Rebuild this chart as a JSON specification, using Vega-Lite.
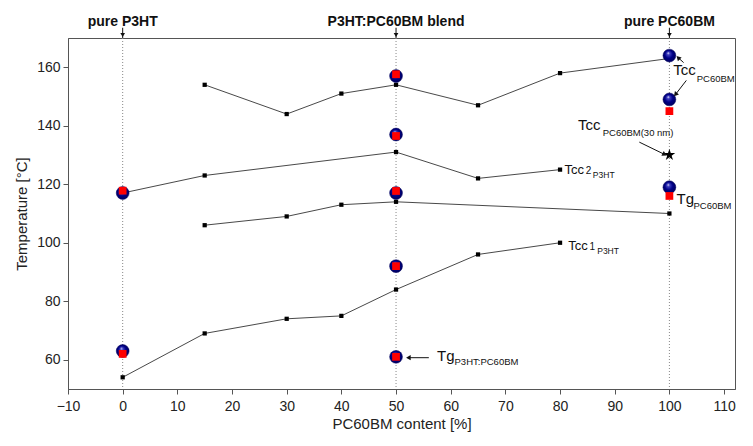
{
  "$schema": "https://vega.github.io/schema/vega-lite/v6.json",
  "width": 667,
  "height": 351,
  "autosize": {"type": "none"},
  "padding": {"left": 68, "top": 38, "right": 18, "bottom": 57},
  "background": "white",
  "config": {
    "view": {"stroke": "#555", "strokeWidth": 1},
    "font": "Liberation Sans",
    "axis": {"domainColor": "#555", "tickColor": "#555", "labelColor": "#222", "titleColor": "#222", "labelFont": "Liberation Sans", "titleFont": "Liberation Sans", "labelFontSize": 14, "titleFontSize": 15, "titleFontWeight": "normal", "grid": false}
  },
  "datasets": {
    "lines": [
      {"series": "A", "x": 15, "y": 154}, {"series": "A", "x": 30, "y": 144}, {"series": "A", "x": 40, "y": 151}, {"series": "A", "x": 50, "y": 154}, {"series": "A", "x": 65, "y": 147}, {"series": "A", "x": 80, "y": 158}, {"series": "A", "x": 100, "y": 163},
      {"series": "B", "x": 0, "y": 117}, {"series": "B", "x": 15, "y": 123}, {"series": "B", "x": 50, "y": 131}, {"series": "B", "x": 65, "y": 122}, {"series": "B", "x": 80, "y": 125},
      {"series": "C", "x": 15, "y": 106}, {"series": "C", "x": 30, "y": 109}, {"series": "C", "x": 40, "y": 113}, {"series": "C", "x": 50, "y": 114}, {"series": "C", "x": 100, "y": 110},
      {"series": "D", "x": 0, "y": 54}, {"series": "D", "x": 15, "y": 69}, {"series": "D", "x": 30, "y": 74}, {"series": "D", "x": 40, "y": 75}, {"series": "D", "x": 50, "y": 84}, {"series": "D", "x": 65, "y": 96}, {"series": "D", "x": 80, "y": 100}
    ],
    "balls": [
      {"x": 0, "y": 117}, {"x": 0, "y": 63}, {"x": 50, "y": 157}, {"x": 50, "y": 137}, {"x": 50, "y": 117}, {"x": 50, "y": 92}, {"x": 50, "y": 61}, {"x": 100, "y": 164}, {"x": 100, "y": 149}, {"x": 100, "y": 119}
    ],
    "red": [
      {"x": 0, "y": 117.8}, {"x": 0, "y": 62}, {"x": 50, "y": 157.6}, {"x": 50, "y": 136.5}, {"x": 50, "y": 117.7}, {"x": 50, "y": 92}, {"x": 50, "y": 61}, {"x": 100, "y": 145}, {"x": 100, "y": 116}
    ],
    "star": [{"x": 100, "y": 130}],
    "vlines": [
      {"x": 0, "label": "pure P3HT", "top": 170, "bottom": 50, "stem": 173.5, "head": 171},
      {"x": 50, "label": "P3HT:PC60BM blend", "top": 170, "bottom": 50, "stem": 173.5, "head": 171},
      {"x": 100, "label": "pure PC60BM", "top": 170, "bottom": 50, "stem": 173.5, "head": 171}
    ],
    "mains": [
      {"x": 100.7, "y": 157.3, "text": "Tcc"},
      {"x": 83.3, "y": 138.5, "text": "Tcc"},
      {"x": 101.3, "y": 113.2, "text": "Tg"},
      {"x": 57.5, "y": 59.7, "text": "Tg"}
    ],
    "mains2": [
      {"x": 80.8, "y": 123.5, "text": "Tcc"},
      {"x": 81.5, "y": 97.5, "text": "Tcc"}
    ],
    "mids": [
      {"x": 84.7, "y": 123.5, "text": "2"},
      {"x": 85.4, "y": 97.5, "text": "1"}
    ],
    "subs": [
      {"x": 105.0, "y": 154.9, "text": "PC60BM"},
      {"x": 87.8, "y": 136.4, "text": "PC60BM(30 nm)"},
      {"x": 104.4, "y": 111.7, "text": "PC60BM"},
      {"x": 60.7, "y": 58.1, "text": "P3HT:PC60BM"}
    ],
    "subs2": [
      {"x": 86.0, "y": 122.3, "text": "P3HT"},
      {"x": 86.8, "y": 96.3, "text": "P3HT"}
    ],
    "arrows": [
      {"id": 1, "x": 102.6, "y": 161.6, "x2": 101.7, "y2": 163.1},
      {"id": 2, "x": 103.1, "y": 155.5, "x2": 101.2, "y2": 150.9},
      {"id": 3, "x": 94.5, "y": 134.4, "x2": 99.0, "y2": 130.3},
      {"id": 4, "x": 56.0, "y": 60.7, "x2": 52.4, "y2": 60.7}
    ]
  },
  "layer": [
    {
      "data": {"name": "vlines"},
      "mark": {"type": "rule", "color": "#888", "strokeWidth": 1, "strokeDash": [1, 2]},
      "encoding": {
        "x": {"field": "x", "type": "quantitative", "scale": {"domain": [-10, 112], "nice": false, "zero": false},
          "axis": {"title": "PC60BM content [%]", "values": [-10, -5, 0, 5, 10, 15, 20, 25, 30, 35, 40, 45, 50, 55, 60, 65, 70, 75, 80, 85, 90, 95, 100, 105, 110],
            "labelExpr": "datum.value % 10 === 0 ? datum.label : ''",
            "tickSize": {"condition": {"test": "datum.value % 10 !== 0", "value": 3}, "value": 5},
            "labelPadding": 5, "titleY": 27, "labelFlush": false}},
        "y": {"field": "top", "type": "quantitative", "scale": {"domain": [50, 170], "nice": false, "zero": false},
          "axis": {"title": "Temperature [°C]", "values": [60, 70, 80, 90, 100, 110, 120, 130, 140, 150, 160],
            "labelExpr": "datum.value % 20 === 0 ? datum.label : ''",
            "tickSize": {"condition": {"test": "datum.value % 20 !== 0", "value": 3}, "value": 5},
            "labelPadding": 3, "titleX": -39}},
        "y2": {"field": "bottom"}
      }
    },
    {
      "data": {"name": "vlines"},
      "mark": {"type": "rule", "color": "#111", "strokeWidth": 1, "clip": false},
      "encoding": {
        "x": {"field": "x", "type": "quantitative"},
        "y": {"field": "top", "type": "quantitative"},
        "y2": {"field": "stem"}
      }
    },
    {
      "data": {"name": "vlines"},
      "mark": {"type": "point", "shape": "triangle-down", "filled": true, "color": "#111", "size": 22, "opacity": 1, "clip": false},
      "encoding": {
        "x": {"field": "x", "type": "quantitative"},
        "y": {"field": "head", "type": "quantitative"}
      }
    },
    {
      "data": {"name": "vlines"},
      "mark": {"type": "text", "fontWeight": "bold", "fontSize": 14, "font": "Liberation Sans", "color": "#111", "baseline": "alphabetic", "dy": -12, "clip": false},
      "encoding": {
        "x": {"field": "x", "type": "quantitative"},
        "y": {"field": "top", "type": "quantitative"},
        "text": {"field": "label"}
      }
    },
    {
      "data": {"name": "lines"},
      "mark": {"type": "line", "color": "#333", "strokeWidth": 0.9},
      "encoding": {
        "x": {"field": "x", "type": "quantitative"},
        "y": {"field": "y", "type": "quantitative"},
        "detail": {"field": "series"}
      }
    },
    {
      "data": {"name": "lines"},
      "mark": {"type": "square", "color": "#000", "size": 18, "opacity": 1},
      "encoding": {
        "x": {"field": "x", "type": "quantitative"},
        "y": {"field": "y", "type": "quantitative"}
      }
    },
    {
      "data": {"name": "balls"},
      "mark": {"type": "point", "shape": "circle", "filled": true, "size": 165, "opacity": 1,
        "fill": {"gradient": "radial", "x1": 0.4, "y1": 0.3, "r1": 0, "x2": 0.5, "y2": 0.5, "r2": 0.55,
          "stops": [{"offset": 0, "color": "#f0f0ff"}, {"offset": 0.2, "color": "#4040c0"}, {"offset": 0.55, "color": "#000088"}, {"offset": 1, "color": "#000055"}]},
        "stroke": "#000060", "strokeWidth": 0.5},
      "encoding": {
        "x": {"field": "x", "type": "quantitative"},
        "y": {"field": "y", "type": "quantitative"}
      }
    },
    {
      "data": {"name": "red"},
      "mark": {"type": "square", "color": "#ff0000", "size": 60, "opacity": 1},
      "encoding": {
        "x": {"field": "x", "type": "quantitative"},
        "y": {"field": "y", "type": "quantitative"}
      }
    },
    {
      "data": {"name": "star"},
      "mark": {"type": "point", "filled": true, "color": "#000", "opacity": 1, "size": 150,
        "shape": "M0,-1L0.2245,-0.309L0.951,-0.309L0.363,0.118L0.588,0.809L0,0.382L-0.588,0.809L-0.363,0.118L-0.951,-0.309L-0.2245,-0.309Z"},
      "encoding": {
        "x": {"field": "x", "type": "quantitative"},
        "y": {"field": "y", "type": "quantitative"}
      }
    },
    {
      "data": {"name": "arrows"},
      "mark": {"type": "rule", "color": "#111", "strokeWidth": 1},
      "encoding": {
        "x": {"field": "x", "type": "quantitative"},
        "y": {"field": "y", "type": "quantitative"},
        "x2": {"field": "x2"},
        "y2": {"field": "y2"}
      }
    },
    {
      "data": {"name": "arrows"},
      "transform": [{"filter": "datum.id === 1"}],
      "mark": {"type": "point", "shape": "triangle", "filled": true, "color": "#111", "size": 28, "opacity": 1, "angle": 315},
      "encoding": {"x": {"field": "x2", "type": "quantitative"}, "y": {"field": "y2", "type": "quantitative"}}
    },
    {
      "data": {"name": "arrows"},
      "transform": [{"filter": "datum.id === 2"}],
      "mark": {"type": "point", "shape": "triangle", "filled": true, "color": "#111", "size": 28, "opacity": 1, "angle": 220},
      "encoding": {"x": {"field": "x2", "type": "quantitative"}, "y": {"field": "y2", "type": "quantitative"}}
    },
    {
      "data": {"name": "arrows"},
      "transform": [{"filter": "datum.id === 3"}],
      "mark": {"type": "point", "shape": "triangle", "filled": true, "color": "#111", "size": 28, "opacity": 1, "angle": 117},
      "encoding": {"x": {"field": "x2", "type": "quantitative"}, "y": {"field": "y2", "type": "quantitative"}}
    },
    {
      "data": {"name": "arrows"},
      "transform": [{"filter": "datum.id === 4"}],
      "mark": {"type": "point", "shape": "triangle", "filled": true, "color": "#111", "size": 28, "opacity": 1, "angle": 270},
      "encoding": {"x": {"field": "x2", "type": "quantitative"}, "y": {"field": "y2", "type": "quantitative"}}
    },
    {
      "data": {"name": "mains"},
      "mark": {"type": "text", "align": "left", "baseline": "alphabetic", "fontSize": 15, "font": "Liberation Sans", "color": "#111", "clip": false},
      "encoding": {
        "x": {"field": "x", "type": "quantitative"},
        "y": {"field": "y", "type": "quantitative"},
        "text": {"field": "text"}
      }
    },
    {
      "data": {"name": "mains2"},
      "mark": {"type": "text", "align": "left", "baseline": "alphabetic", "fontSize": 13, "font": "Liberation Sans", "color": "#111", "clip": false},
      "encoding": {
        "x": {"field": "x", "type": "quantitative"},
        "y": {"field": "y", "type": "quantitative"},
        "text": {"field": "text"}
      }
    },
    {
      "data": {"name": "mids"},
      "mark": {"type": "text", "align": "left", "baseline": "alphabetic", "fontSize": 10, "font": "Liberation Sans", "color": "#111", "clip": false},
      "encoding": {
        "x": {"field": "x", "type": "quantitative"},
        "y": {"field": "y", "type": "quantitative"},
        "text": {"field": "text"}
      }
    },
    {
      "data": {"name": "subs"},
      "mark": {"type": "text", "align": "left", "baseline": "alphabetic", "fontSize": 9.5, "font": "Liberation Sans", "color": "#111", "clip": false},
      "encoding": {
        "x": {"field": "x", "type": "quantitative"},
        "y": {"field": "y", "type": "quantitative"},
        "text": {"field": "text"}
      }
    },
    {
      "data": {"name": "subs2"},
      "mark": {"type": "text", "align": "left", "baseline": "alphabetic", "fontSize": 8.5, "font": "Liberation Sans", "color": "#111", "clip": false},
      "encoding": {
        "x": {"field": "x", "type": "quantitative"},
        "y": {"field": "y", "type": "quantitative"},
        "text": {"field": "text"}
      }
    }
  ]
}
